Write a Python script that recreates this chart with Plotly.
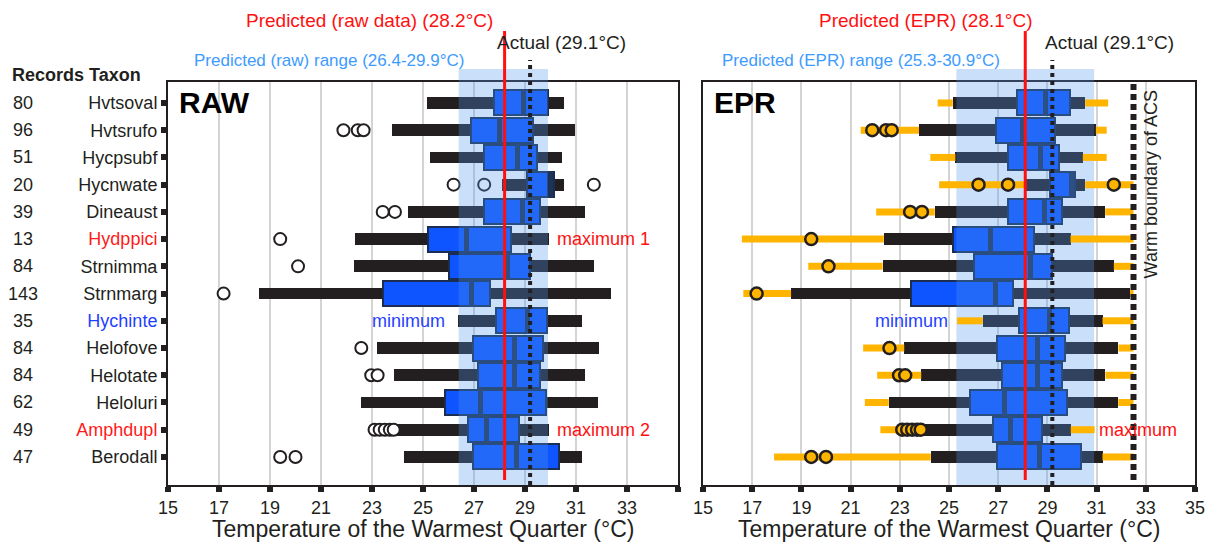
import plotly.graph_objects as go

W, H = 1230, 547

# ---------------- data ----------------
taxa = ["Hvtsoval", "Hvtsrufo", "Hycpsubf", "Hycnwate", "Dineaust", "Hydppici", "Strnimma",
        "Strnmarg", "Hychinte", "Helofove", "Helotate", "Heloluri", "Amphdupl", "Berodall"]
taxon_colors = ["#231f20", "#231f20", "#231f20", "#231f20", "#231f20", "#ff1a1a", "#231f20",
                "#231f20", "#1f3fff", "#231f20", "#231f20", "#231f20", "#ff1a1a", "#231f20"]
records = [80, 96, 51, 20, 39, 13, 84, 143, 35, 84, 84, 62, 49, 47]

whisk_lo = [25.15, 23.78, 25.26, 28.10, 24.42, 22.35, 22.30, 18.58, 26.37, 23.18, 23.87, 22.55, 23.97, 24.26]
whisk_hi = [30.54, 30.97, 30.44, 30.54, 31.35, 29.94, 31.70, 32.36, 31.24, 31.89, 31.36, 31.88, 29.95, 31.24]
q1 = [27.77, 26.90, 27.40, 29.09, 27.40, 25.18, 26.03, 23.45, 27.86, 26.97, 27.16, 25.85, 26.77, 26.97]
median = [28.93, 28.00, 28.72, 29.98, 28.90, 26.70, 28.32, 26.90, 29.10, 28.60, 28.60, 27.26, 27.50, 28.66]
q3 = [29.92, 29.32, 29.46, 30.13, 29.60, 28.46, 29.20, 27.61, 29.88, 29.72, 29.60, 29.81, 28.78, 30.35]

out_row = [1, 1, 1, 3, 3, 3, 4, 4, 5, 6, 7, 9, 10, 10, 12, 12, 12, 12, 12, 13, 13]
out_val = [21.88, 22.44, 22.67, 26.20, 27.40, 31.70, 23.42, 23.90, 19.40, 20.10, 17.18, 22.58,
           22.97, 23.22, 23.10, 23.30, 23.50, 23.70, 23.85, 19.40, 20.00]

epr_lo = [24.54, 21.41, 24.24, 24.60, 22.04, 16.58, 19.28, 16.64, 25.33, 21.51, 22.08, 21.58, 22.21, 17.89]
epr_hi = [31.47, 31.41, 31.41, 32.50, 32.50, 32.50, 32.50, 32.50, 32.50, 32.50, 32.50, 32.50, 30.92, 32.50]

raw_pred, raw_rng = 28.2, (26.4, 29.9)
epr_pred, epr_rng = 28.1, (25.3, 30.9)
actual_line = 29.2
acs_boundary = 32.5

x_ticks = list(range(15, 36, 2))

# ---------------- style ----------------
FONT = "Liberation Sans, Arial, sans-serif"
BLACK = "#231f20"
BLUE = "#0f55ff"
NAVY = "#1b2e52"
MED = "#1d3358"
ORANGE = "#ffb400"
BAND = "rgba(80,150,235,0.30)"
RED = "#ff1010"

rows = list(range(len(taxa)))
Y_RANGE = [14.03, -0.77]
LX = [168 / W, 678 / W]
RX = [703 / W, 1195 / W]
YD = [1 - 485 / H, 1 - 82 / H]

fig = go.Figure()


def add_panel(xa, ya, rng, epr):
    hi = [min(h, acs_boundary) for h in whisk_hi] if epr else whisk_hi
    fig.add_trace(go.Bar(y=rows, base=whisk_lo, x=[b - a for a, b in zip(whisk_lo, hi)],
                         orientation="h", width=0.43, marker=dict(color=BLACK, line=dict(width=0)),
                         xaxis=xa, yaxis=ya, showlegend=False, hoverinfo="skip"))
    fig.add_trace(go.Bar(y=rows, base=q1, x=[b - a for a, b in zip(q1, q3)],
                         orientation="h", width=0.92, marker=dict(color=BLUE, line=dict(color=NAVY, width=2)),
                         xaxis=xa, yaxis=ya, showlegend=False, hoverinfo="skip"))
    fig.add_trace(go.Bar(y=rows, base=[m - 0.1 for m in median], x=[0.2] * len(rows),
                         orientation="h", width=0.98, marker=dict(color=MED, line=dict(width=0)),
                         xaxis=xa, yaxis=ya, showlegend=False, hoverinfo="skip"))
    if not epr:
        fig.add_trace(go.Scatter(x=out_val, y=out_row, mode="markers",
                                 marker=dict(symbol="circle", size=12, color="white",
                                             line=dict(color=BLACK, width=2)),
                                 xaxis=xa, yaxis=ya, showlegend=False, hoverinfo="skip"))
    # predicted range band (over the bars)
    fig.add_trace(go.Scatter(x=[rng[0], rng[1], rng[1], rng[0], rng[0]],
                             y=[Y_RANGE[1], Y_RANGE[1], Y_RANGE[0], Y_RANGE[0], Y_RANGE[1]],
                             mode="lines", fill="toself", fillcolor=BAND, line=dict(width=0),
                             xaxis=xa, yaxis=ya, showlegend=False, hoverinfo="skip"))
    if epr:
        sx, sy = [], []
        for i in rows:
            if epr_lo[i] < whisk_lo[i]:
                sx += [epr_lo[i], whisk_lo[i], None]
                sy += [i, i, None]
            if epr_hi[i] > hi[i]:
                sx += [hi[i], epr_hi[i], None]
                sy += [i, i, None]
        fig.add_trace(go.Scatter(x=sx, y=sy, mode="lines", line=dict(color=ORANGE, width=7),
                                 xaxis=xa, yaxis=ya, showlegend=False, hoverinfo="skip"))
        fig.add_trace(go.Scatter(x=out_val, y=out_row, mode="markers",
                                 marker=dict(symbol="circle", size=12, color=ORANGE,
                                             line=dict(color=BLACK, width=2.5)),
                                 xaxis=xa, yaxis=ya, showlegend=False, hoverinfo="skip"))


add_panel("x", "y", raw_rng, False)
add_panel("x2", "y2", epr_rng, True)

xcommon = dict(range=[15, 35], tickvals=x_ticks, showgrid=True, gridcolor="#d4d4d4", gridwidth=1.5,
               zeroline=False, showline=True, mirror=True, linecolor=BLACK, linewidth=2,
               ticks="outside", ticklen=5, tickwidth=6, tickcolor=BLACK, automargin=False,
               tickfont=dict(family=FONT, size=18, color=BLACK))
ycommon = dict(range=Y_RANGE, domain=YD, showgrid=False, zeroline=False, showline=True, mirror=True,
               linecolor=BLACK, linewidth=2, automargin=False)

ticktext_left = [str(v) if v != 35 else "" for v in x_ticks]
ticktext_taxa = [f'<span style="color:{c}">{t}</span>' for t, c in zip(taxa, taxon_colors)]

fig.update_layout(
    template="none",
    width=W, height=H, margin=dict(l=0, r=0, t=0, b=0, pad=0, autoexpand=False),
    paper_bgcolor="white", plot_bgcolor="white", barmode="overlay", bargap=0,
    font=dict(family=FONT, color=BLACK),
    xaxis=dict(domain=LX, anchor="y", ticktext=ticktext_left, **xcommon),
    xaxis2=dict(domain=RX, anchor="y2", ticktext=[str(v) for v in x_ticks], **xcommon),
    yaxis=dict(anchor="x", tickvals=rows, ticktext=ticktext_taxa, ticks="outside", ticklen=5,
               tickwidth=6, tickcolor=BLACK, tickfont=dict(family=FONT, size=18, color=BLACK), **ycommon),
    yaxis2=dict(anchor="x2", showticklabels=False, ticks="", **ycommon),
)

shapes = []
for xr, rng, pred in (("x", raw_rng, raw_pred), ("x2", epr_rng, epr_pred)):
    shapes.append(dict(type="rect", xref=xr, yref="paper", x0=rng[0], x1=rng[1], y0=YD[1], y1=1 - 69 / H,
                       fillcolor=BAND, line=dict(width=0), layer="above"))
    shapes.append(dict(type="line", xref=xr, yref="paper", x0=actual_line, x1=actual_line,
                       y0=YD[0], y1=1 - 60 / H, line=dict(color=BLACK, width=4, dash="dot"), layer="above"))
    shapes.append(dict(type="line", xref=xr, yref="paper", x0=pred, x1=pred,
                       y0=1 - 480 / H, y1=1 - 31 / H, line=dict(color=RED, width=3), layer="above"))
shapes.append(dict(type="line", xref="x2", yref="paper", x0=acs_boundary, x1=acs_boundary,
                   y0=1 - 480 / H, y1=1 - 84 / H, line=dict(color=BLACK, width=6, dash="6px,4px"),
                   layer="above"))
fig.update_layout(shapes=shapes)

ann = []


def A(**k):
    d = dict(showarrow=False, xanchor="center", yanchor="middle",
             font=dict(family=FONT, size=18, color=BLACK))
    f = k.pop("font", None)
    if f:
        d["font"].update(f)
    d.update(k)
    ann.append(d)


# headers
A(text="Predicted (raw data) (28.2°C)", xref="paper", yref="paper", x=369 / W, y=1 - 20 / H,
  font=dict(size=19, color=RED))
A(text="Actual (29.1°C)", xref="paper", yref="paper", x=561 / W, y=1 - 43 / H, font=dict(size=19))
A(text="Predicted (raw) range (26.4-29.9°C)", xref="paper", yref="paper", x=329 / W, y=1 - 60 / H,
  font=dict(size=17, color="#3d9bff"))
A(text="Predicted (EPR) (28.1°C)", xref="paper", yref="paper", x=926 / W, y=1 - 20 / H,
  font=dict(size=19, color=RED))
A(text="Actual (29.1°C)", xref="paper", yref="paper", x=1109 / W, y=1 - 43 / H, font=dict(size=19))
A(text="Predicted (EPR) range (25.3-30.9°C)", xref="paper", yref="paper", x=861 / W, y=1 - 60 / H,
  font=dict(size=17, color="#3d9bff"))
A(text="<b>Records Taxon</b>", xref="paper", yref="paper", x=10 / W, y=1 - 75 / H, xanchor="left",
  font=dict(size=18))
# records
for i, r in enumerate(records):
    A(text=str(r), xref="paper", yref="y", x=23 / W, y=i, font=dict(size=18))
# panel labels
A(text="<b>RAW</b>", xref="x domain", yref="y", x=0.018, y=0, xanchor="left", font=dict(size=30, color="black"))
A(text="<b>EPR</b>", xref="x2 domain", yref="y2", x=0.018, y=0, xanchor="left", font=dict(size=30, color="black"))
# inside labels
A(text="maximum 1", xref="x", yref="y", x=30.18, y=5, xanchor="left", font=dict(color=RED))
A(text="maximum 2", xref="x", yref="y", x=30.18, y=12, xanchor="left", font=dict(color=RED))
A(text="minimum", xref="x", yref="y", x=25.95, y=8, xanchor="right", font=dict(color="#1f3fff"))
A(text="minimum", xref="x2", yref="y2", x=25.05, y=8, xanchor="right", font=dict(color="#1f3fff"))
A(text="maximum", xref="x2", yref="y2", x=31.0, y=12, xanchor="left", font=dict(color=RED))
A(text="Warm boundary of ACS", xref="x2", yref="y2", x=33.2, y=3.0, textangle=-90, font=dict(size=18))
# axis titles
for xr in ("x domain", "x2 domain"):
    A(text="Temperature of the Warmest Quarter (°C)", xref=xr, yref="paper", x=0.5, y=1 - 529 / H,
      font=dict(size=23))
fig.update_layout(annotations=ann)

fig.write_html("out.html")
